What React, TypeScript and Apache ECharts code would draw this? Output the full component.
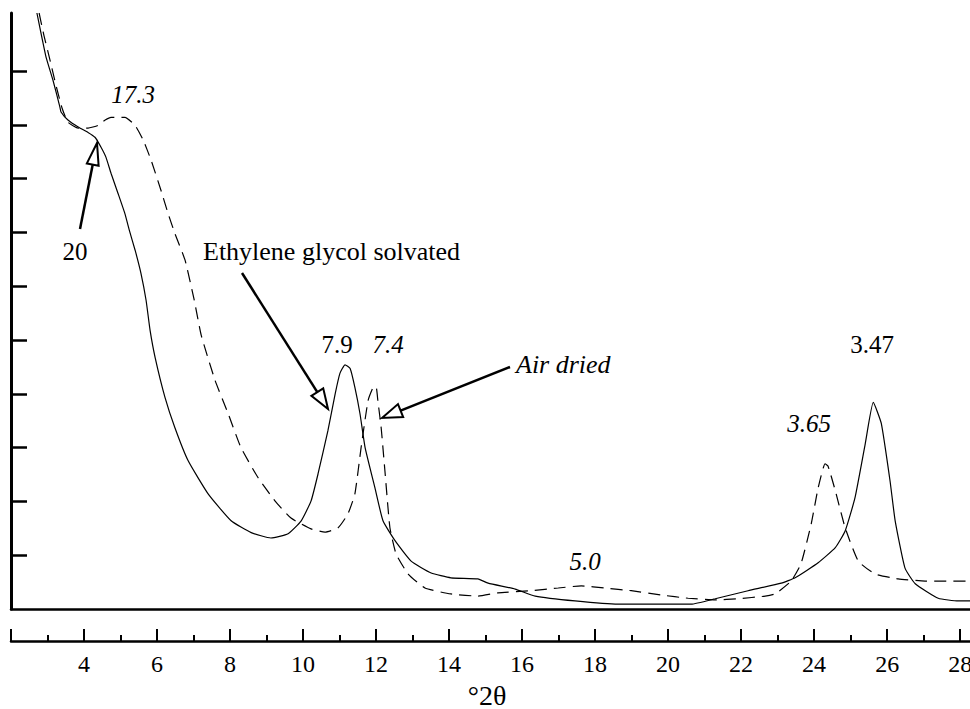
import { useEffect, useRef } from "react";
import * as echarts from "echarts";

// °2θ positions and relative intensities
const egTheta = [2.71, 2.82, 2.96, 3.15, 3.34, 3.37, 3.56, 3.84, 4.11, 4.3, 4.47, 4.6, 4.74, 4.93, 5.12, 5.25, 5.4, 5.56, 5.7, 5.81, 5.95, 6.22, 6.49, 6.85, 7.4, 8.03, 8.58, 9.12, 9.59, 9.95, 10.22, 10.41, 10.68, 10.88, 11.01, 11.15, 11.29, 11.42, 11.56, 11.7, 11.97, 12.19, 12.52, 12.96, 13.51, 14.05, 14.79, 15.07, 15.81, 16.36, 17.45, 18.63, 20.63, 21.29, 22.19, 23.1, 23.48, 24.11, 24.58, 24.85, 25.12, 25.4, 25.62, 25.84, 26.08, 26.22, 26.49, 26.77, 27.4, 27.95, 28.27];
const egIntensity = [11.08, 10.71, 10.26, 9.83, 9.33, 9.24, 9.09, 8.96, 8.86, 8.77, 8.58, 8.4, 8.1, 7.73, 7.35, 7.02, 6.67, 6.24, 5.74, 5.18, 4.67, 3.93, 3.37, 2.76, 2.14, 1.64, 1.42, 1.32, 1.4, 1.64, 2.01, 2.51, 3.31, 4.0, 4.38, 4.54, 4.47, 4.12, 3.63, 3.0, 2.25, 1.64, 1.27, 0.89, 0.67, 0.58, 0.56, 0.48, 0.37, 0.24, 0.15, 0.09, 0.09, 0.19, 0.34, 0.48, 0.58, 0.86, 1.14, 1.45, 2.07, 3.07, 3.84, 3.45, 2.38, 1.64, 0.76, 0.47, 0.2, 0.15, 0.15];

const adTheta = [2.77, 2.9, 3.07, 3.23, 3.4, 3.56, 3.84, 4.11, 4.38, 4.58, 4.74, 5.12, 5.4, 5.62, 5.84, 6.11, 6.3, 6.49, 6.77, 7.02, 7.21, 7.59, 7.95, 8.3, 8.77, 9.23, 9.67, 10.22, 10.6, 10.96, 11.23, 11.42, 11.59, 11.78, 11.92, 12.0, 12.05, 12.14, 12.25, 12.38, 12.55, 12.88, 13.34, 14.05, 14.79, 15.34, 16.25, 16.99, 17.62, 18.27, 18.99, 19.81, 20.55, 21.29, 21.92, 22.66, 22.93, 23.37, 23.64, 23.92, 24.11, 24.3, 24.38, 24.58, 24.85, 25.21, 25.67, 26.3, 27.04, 28.27];
const adIntensity = [11.08, 10.67, 10.2, 9.74, 9.31, 9.05, 8.94, 8.94, 8.99, 9.09, 9.14, 9.14, 8.99, 8.72, 8.34, 7.78, 7.36, 6.98, 6.48, 5.74, 5.09, 4.25, 3.63, 3.0, 2.44, 2.01, 1.69, 1.49, 1.43, 1.51, 1.77, 2.14, 3.0, 3.87, 4.12, 4.13, 3.87, 3.37, 2.51, 1.51, 1.02, 0.65, 0.39, 0.28, 0.24, 0.3, 0.34, 0.39, 0.43, 0.39, 0.34, 0.26, 0.2, 0.17, 0.19, 0.24, 0.28, 0.52, 0.84, 1.58, 2.25, 2.7, 2.66, 2.2, 1.51, 0.89, 0.65, 0.56, 0.52, 0.52];

const majorTicks = [2, 4, 6, 8, 10, 12, 14, 16, 18, 20, 22, 24, 26, 28];
const tickLabels = [4, 6, 8, 10, 12, 14, 16, 18, 20, 22, 24, 26, 28];
const minorTicks = [3, 5, 7, 9, 11, 13, 15, 17, 19, 21, 23, 25, 27];
const yTicks = [1, 2, 3, 4, 5, 6, 7, 8, 9, 10];

const X_MIN = 2;
const X_MAX = 28.27;
const Y_MAX = 11.08;
const FONT = "Liberation Serif";

function arrow(tail: number[], tip: number[], len: number, half: number) {
  const dx = tip[0] - tail[0];
  const dy = tip[1] - tail[1];
  const d = Math.hypot(dx, dy);
  const ux = dx / d;
  const uy = dy / d;
  const bx = tip[0] - ux * len;
  const by = tip[1] - uy * len;
  const nx = -uy;
  const ny = ux;
  return [
    {
      type: "line",
      z: 100,
      shape: { x1: tail[0], y1: tail[1], x2: bx, y2: by },
      style: { stroke: "#000", lineWidth: 2.5 },
    },
    {
      type: "polygon",
      z: 101,
      shape: {
        points: [
          [tip[0], tip[1]],
          [bx + nx * half, by + ny * half],
          [bx - nx * half, by - ny * half],
        ],
      },
      style: { fill: "#fff", stroke: "#000", lineWidth: 2, lineJoin: "miter" },
    },
  ];
}

function label(text: string, x: number, y: number, size: number, italic: boolean, align = "center") {
  const style: any = {
    text,
    fill: "#000",
    fontSize: size,
    fontFamily: FONT,
    align,
    verticalAlign: "middle",
  };
  if (italic) style.fontStyle = "italic";
  return { type: "text", z: 102, x, y, style };
}

function buildOption() {
  const egData = egTheta.map((t, i) => [t, egIntensity[i]]);
  const adData = adTheta.map((t, i) => [t, adIntensity[i]]);

  const baseX = {
    type: "value",
    gridIndex: 0,
    min: X_MIN,
    max: X_MAX,
    position: "bottom",
    splitLine: { show: false },
  };

  return {
    animation: false,
    backgroundColor: "#fff",
    grid: { left: 11, right: 0, top: 13, bottom: 100, containLabel: false, outerBoundsMode: "none" },
    xAxis: [
      {
        ...baseX,
        offset: 0,
        axisLine: { show: true, lineStyle: { color: "#000", width: 2.5 } },
        axisTick: { show: false },
        axisLabel: { show: false },
      },
      {
        ...baseX,
        offset: 32,
        axisLine: { show: true, lineStyle: { color: "#000", width: 2.5 } },
        axisTick: {
          show: true,
          inside: true,
          length: 12,
          customValues: majorTicks,
          lineStyle: { color: "#000", width: 2 },
        },
        axisLabel: {
          show: true,
          customValues: tickLabels,
          color: "#000",
          fontFamily: FONT,
          fontSize: 24,
          margin: 23,
          verticalAlign: "middle",
        },
      },
      {
        ...baseX,
        offset: 32,
        axisLine: { show: false },
        axisTick: {
          show: true,
          inside: true,
          length: 6,
          customValues: minorTicks,
          lineStyle: { color: "#000", width: 2 },
        },
        axisLabel: { show: false },
      },
    ],
    yAxis: {
      type: "value",
      min: 0,
      max: Y_MAX,
      axisLine: { show: true, lineStyle: { color: "#000", width: 3 } },
      axisTick: {
        show: true,
        inside: true,
        length: 16,
        customValues: yTicks,
        lineStyle: { color: "#000", width: 2.5 },
      },
      axisLabel: { show: false },
      splitLine: { show: false },
    },
    series: [
      {
        name: "Ethylene glycol solvated",
        type: "line",
        xAxisIndex: 0,
        yAxisIndex: 0,
        data: egData,
        showSymbol: false,
        smooth: 0.15,
        silent: true,
        lineStyle: { color: "#000", width: 1.2 },
      },
      {
        name: "Air dried",
        type: "line",
        xAxisIndex: 0,
        yAxisIndex: 0,
        data: adData,
        showSymbol: false,
        smooth: 0.15,
        silent: true,
        lineStyle: { color: "#000", width: 1.2, type: [12, 7] },
      },
    ],
    graphic: {
      elements: [
        ...arrow([80, 229], [97, 143], 22, 6),
        ...arrow([242, 273], [328, 409], 20, 7),
        ...arrow([510, 367], [382, 418], 20, 7),
        label("17.3", 133, 94, 25, true),
        label("20", 75, 251, 25, false),
        label("Ethylene glycol solvated", 203, 251, 26, false, "left"),
        label("7.9", 337, 344, 25, false),
        label("7.4", 388, 344, 25, true),
        label("Air dried", 516, 364, 26, true, "left"),
        label("5.0", 585, 561, 25, true),
        label("3.65", 809, 423, 25, true),
        label("3.47", 872, 344, 25, false),
        label("°2θ", 487, 695, 28, false),
      ],
    },
  };
}

export default function App() {
  const ref = useRef<HTMLDivElement>(null);

  useEffect(() => {
    if (!ref.current) return;
    document.body.style.margin = "0";
    document.body.style.overflow = "hidden";
    const chart = echarts.init(ref.current, undefined, { renderer: "svg", width: 970, height: 709 });
    chart.setOption(buildOption() as any);
    let alive = true;
    const fonts: any = (document as any).fonts;
    if (fonts && fonts.load) {
      Promise.all([
        fonts.load(`24px "${FONT}"`),
        fonts.load(`italic 24px "${FONT}"`),
      ])
        .then(() => {
          if (!alive) return;
          chart.clear();
          chart.setOption(buildOption() as any);
        })
        .catch(() => {});
    }
    return () => {
      alive = false;
      chart.dispose();
    };
  }, []);

  return (
    <div
      ref={ref}
      style={{ position: "fixed", left: 0, top: 0, width: 970, height: 709, background: "#fff", fontFamily: FONT }}
    />
  );
}
